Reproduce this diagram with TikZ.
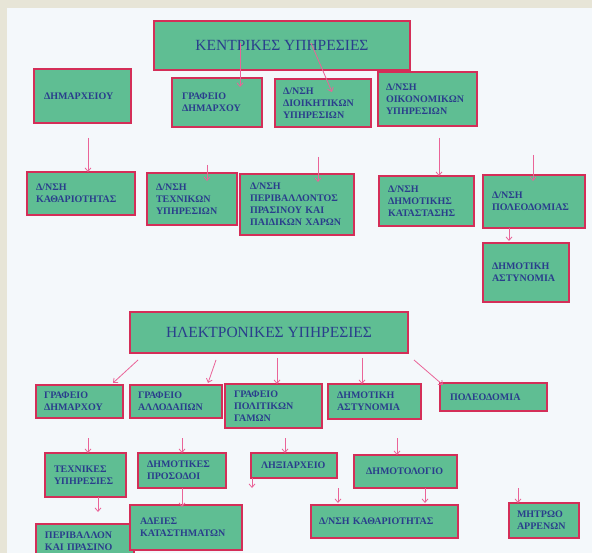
\documentclass[tikz,border=0pt]{standalone}
\usepackage{fontspec}
\setmainfont{Liberation Serif}
\usetikzlibrary{arrows.meta}
\definecolor{bgouter}{RGB}{231,229,215}
\definecolor{bginner}{RGB}{244,248,251}
\definecolor{bxfill}{RGB}{95,190,147}
\definecolor{bxline}{RGB}{212,46,88}
\definecolor{arrcol}{RGB}{234,100,152}
\definecolor{txtcol}{RGB}{42,62,140}
\tikzset{
  bx/.style={draw=bxline, fill=bxfill, line width=1.3pt, inner ysep=1pt, outer sep=0pt,
    align=left, text=txtcol, font=\bfseries\fontsize{10}{12}\selectfont},
  hd/.style={draw=bxline, fill=bxfill, line width=1.3pt, outer sep=0pt, inner sep=0pt,
    align=center, text=txtcol, font=\fontsize{15.5}{17}\selectfont},
  arr/.style={draw=arrcol, line width=0.8pt, -{Straight Barb[length=3.5pt,width=6pt]}}
}
\newcommand\mkbox[7]{%
  \pgfmathsetmacro\bxw{#4-#2-2*#6}\pgfmathsetmacro\bxh{#5-#3}%
  \node[bx, anchor=north west, inner xsep=#6pt, text width=\bxw pt, minimum height=\bxh pt] (#1) at (#2,#3) {#7};}
\newcommand\mkhead[6]{%
  \pgfmathsetmacro\bxw{#4-#2}\pgfmathsetmacro\bxh{#5-#3}%
  \node[hd, anchor=north west, minimum width=\bxw pt, minimum height=\bxh pt] (#1) at (#2,#3) {#6};}
\begin{document}
\begin{tikzpicture}[x=1pt,y=-1pt]
\useasboundingbox (0,0) rectangle (592,553);
\clip (0,0) rectangle (592,553);
\fill[bgouter] (0,0) rectangle (592,553);
\fill[bginner] (7,8) rectangle (592,553);

% ---------- central services ----------
\mkhead{kent}{154}{21}{410}{70}{ΚΕΝΤΡΙΚΕΣ ΥΠΗΡΕΣΙΕΣ}
\mkbox{dimarx}{34}{69}{131}{123}{10}{ΔΗΜΑΡΧΕΙΟΥ}
\mkbox{grafd}{172}{78}{262}{127}{10}{ΓΡΑΦΕΙΟ\\ΔΗΜΑΡΧΟΥ}
\mkbox{dioik}{275}{79}{371}{127}{8}{Δ/ΝΣΗ\\ΔΙΟΙΚΗΤΙΚΩΝ\\ΥΠΗΡΕΣΙΩΝ}
\mkbox{oikon}{378}{72}{477}{126}{8}{Δ/ΝΣΗ\\ΟΙΚΟΝΟΜΙΚΩΝ\\ΥΠΗΡΕΣΙΩΝ}

\mkbox{kath}{27}{172}{135}{215}{9}{Δ/ΝΣΗ\\ΚΑΘΑΡΙΟΤΗΤΑΣ}
\mkbox{texn}{147}{173}{237}{225}{9}{Δ/ΝΣΗ\\ΤΕΧΝΙΚΩΝ\\ΥΠΗΡΕΣΙΩΝ}
\mkbox{periv}{240}{174}{354}{235}{10}{Δ/ΝΣΗ\\ΠΕΡΙΒΑΛΛΟΝΤΟΣ\\ΠΡΑΣΙΝΟΥ ΚΑΙ\\ΠΑΙΔΙΚΩΝ ΧΑΡΩΝ}
\mkbox{dimkat}{379}{176}{474}{226}{9}{Δ/ΝΣΗ\\ΔΗΜΟΤΙΚΗΣ\\ΚΑΤΑΣΤΑΣΗΣ}
\mkbox{poleod}{483}{175}{585}{228}{9}{Δ/ΝΣΗ\\ΠΟΛΕΟΔΟΜΙΑΣ}
\mkbox{astyn}{483}{243}{569}{302}{9}{ΔΗΜΟΤΙΚΗ\\ΑΣΤΥΝΟΜΙΑ}

% ---------- electronic services ----------
\mkhead{ilek}{130}{312}{408}{353}{ΗΛΕΚΤΡΟΝΙΚΕΣ ΥΠΗΡΕΣΙΕΣ}
\mkbox{egraf}{36}{385}{123}{418}{8}{ΓΡΑΦΕΙΟ\\ΔΗΜΑΡΧΟΥ}
\mkbox{allod}{130}{385}{222}{418}{8}{ΓΡΑΦΕΙΟ\\ΑΛΛΟΔΑΠΩΝ}
\mkbox{polit}{225}{384}{322}{428}{9}{ΓΡΑΦΕΙΟ\\ΠΟΛΙΤΙΚΩΝ\\ΓΑΜΩΝ}
\mkbox{eastyn}{328}{384}{421}{419}{9}{ΔΗΜΟΤΙΚΗ\\ΑΣΤΥΝΟΜΙΑ}
\mkbox{epoleod}{440}{383}{547}{411}{10}{ΠΟΛΕΟΔΟΜΙΑ}

\mkbox{etexn}{45}{453}{126}{497}{9}{ΤΕΧΝΙΚΕΣ\\ΥΠΗΡΕΣΙΕΣ}
\mkbox{eperiv}{36}{524}{134}{558}{9}{ΠΕΡΙΒΑΛΛΟΝ\\ΚΑΙ ΠΡΑΣΙΝΟ}
\mkbox{prosod}{138}{453}{226}{488}{9}{ΔΗΜΟΤΙΚΕΣ\\ΠΡΟΣΟΔΟΙ}
\mkbox{adeies}{130}{505}{242}{550}{10}{ΑΔΕΙΕΣ\\ΚΑΤΑΣΤΗΜΑΤΩΝ}
\mkbox{lixi}{251}{453}{337}{478}{10}{ΛΗΞΙΑΡΧΕΙΟ}
\mkbox{dimotol}{354}{455}{457}{488}{12}{ΔΗΜΟΤΟΛΟΓΙΟ}
\mkbox{ekath}{311}{505}{458}{538}{8}{Δ/ΝΣΗ ΚΑΘΑΡΙΟΤΗΤΑΣ}
\mkbox{mitro}{509}{503}{579}{538}{8}{ΜΗΤΡΩΟ\\ΑΡΡΕΝΩΝ}

% ---------- connector ends ----------
\coordinate (k1) at (240,43);  \coordinate (k1e) at (240,87);
\coordinate (k2) at (311,43);  \coordinate (k2e) at (332,92);
\coordinate (r1) at (88,138);
\coordinate (r2) at (207,165); \coordinate (r2e) at (207,181);
\coordinate (r3) at (318,157); \coordinate (r3e) at (318,182);
\coordinate (r4) at (439,138);
\coordinate (r5) at (533,155); \coordinate (r5e) at (533,181);
\coordinate (r6) at (509,228); \coordinate (r6e) at (509,241);
\coordinate (e1) at (138,360); \coordinate (e1e) at (113,383);
\coordinate (e2) at (216,360); \coordinate (e2e) at (208,383);
\coordinate (e3) at (277,358);
\coordinate (e4) at (362,358);
\coordinate (e5) at (414,360); \coordinate (e5e) at (443,385);
\coordinate (f1) at (88,438);
\coordinate (f2) at (98,497);  \coordinate (f2e) at (98,512);
\coordinate (f3) at (182,438);
\coordinate (f4) at (182,488); \coordinate (f4e) at (182,507);
\coordinate (f5) at (285,438);
\coordinate (f6) at (252,478); \coordinate (f6e) at (252,488);
\coordinate (f7) at (397,438);
\coordinate (f8) at (338,488); \coordinate (f8e) at (338,503);
\coordinate (f9) at (425,488); \coordinate (f9e) at (425,503);
\coordinate (f10) at (518,488); \coordinate (f10e) at (518,503);

% ---------- connectors ----------
\draw[arr] (k1) -- (k1e);
\draw[arr] (k2) -- (k2e);
\draw[arr] (r1) -- (r1 |- kath.north);
\draw[arr] (r2) -- (r2e);
\draw[arr] (r3) -- (r3e);
\draw[arr] (r4) -- (r4 |- dimkat.north);
\draw[arr] (r5) -- (r5e);
\draw[arr] (r6) -- (r6e);
\draw[arr] (e1) -- (e1e);
\draw[arr] (e2) -- (e2e);
\draw[arr] (e3) -- (e3 |- polit.north);
\draw[arr] (e4) -- (e4 |- eastyn.north);
\draw[arr] (e5) -- (e5e);
\draw[arr] (f1) -- (f1 |- etexn.north);
\draw[arr] (f2) -- (f2e);
\draw[arr] (f3) -- (f3 |- prosod.north);
\draw[arr] (f4) -- (f4e);
\draw[arr] (f5) -- (f5 |- lixi.north);
\draw[arr] (f6) -- (f6e);
\draw[arr] (f7) -- (f7 |- dimotol.north);
\draw[arr] (f8) -- (f8e);
\draw[arr] (f9) -- (f9e);
\draw[arr] (f10) -- (f10e);
\end{tikzpicture}
\end{document}
